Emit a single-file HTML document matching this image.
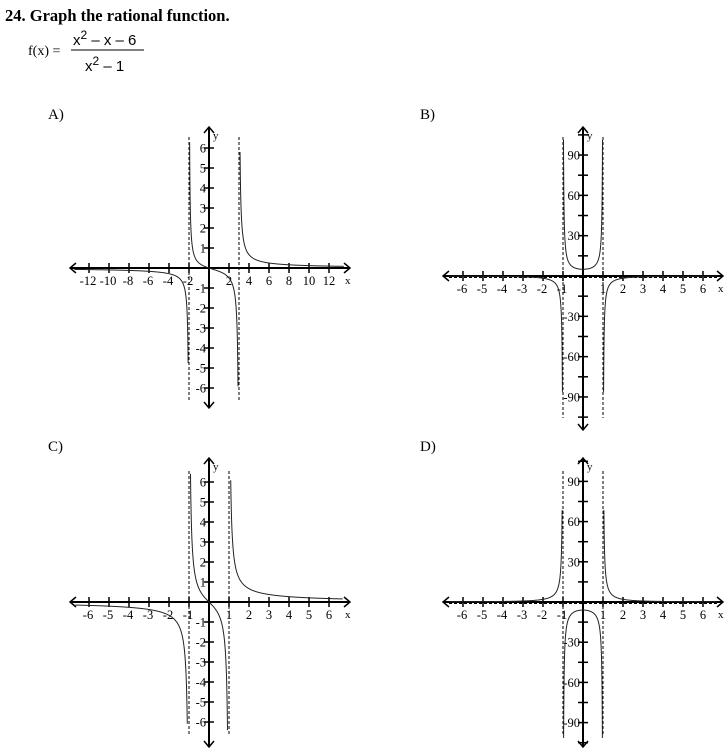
<!DOCTYPE html>
<html><head><meta charset="utf-8">
<style>
body{margin:0;background:#fff;width:728px;height:748px;overflow:hidden;font-family:"Liberation Serif",serif;}
svg text{font-family:"Liberation Serif",serif;}
</style></head>
<body>
<svg id="s" width="728" height="748" viewBox="0 0 728 748" xmlns="http://www.w3.org/2000/svg">
<text x="5" y="21" font-size="16.5" font-weight="bold">24. Graph the rational function.</text>
<g>
<text x="28" y="55" font-size="14">f(x) =</text>
<text x="73" y="45" font-size="15" style="font-family:'Liberation Sans',sans-serif">x<tspan dy="-6" font-size="12">2</tspan><tspan dy="6"> – x – 6</tspan></text>
<line x1="71" y1="50" x2="144" y2="50" stroke="#000" stroke-width="1"/>
<text x="85" y="71" font-size="15" style="font-family:'Liberation Sans',sans-serif">x<tspan dy="-6" font-size="12">2</tspan><tspan dy="6"> – 1</tspan></text>
</g>
<text x="48" y="119" font-size="15">A)</text>
<text x="420" y="119" font-size="15">B)</text>
<text x="48" y="451" font-size="15">C)</text>
<text x="420" y="451" font-size="15">D)</text>
</svg>
<script>
// chart data
const xTicksA = [-12,-10,-8,-6,-4,-2,2,4,6,8,10,12];
const yTicksA = [-6,-5,-4,-3,-2,-1,1,2,3,4,5,6];
const asymA = [-2,3];
const xTicksB = [-6,-5,-4,-3,-2,-1,1,2,3,4,5,6];
const yTicksB = [-105,-90,-75,-60,-45,-30,-15,15,30,45,60,75,90,105];
const yLabelsB = [-90,-60,-30,30,60,90];
const asymB = [-1,1];
const xTicksC = [-6,-5,-4,-3,-2,-1,1,2,3,4,5,6];
const yTicksC = [-6,-5,-4,-3,-2,-1,1,2,3,4,5,6];
const asymC = [-1,1];
const coefB = [5];
const coefD = [-6];

const svg = document.getElementById('s');
const NS = 'http://www.w3.org/2000/svg';
function mk(tag, attrs, parent){const e=document.createElementNS(NS,tag);for(const k in attrs)e.setAttribute(k,attrs[k]);(parent||svg).appendChild(e);return e;}

function graph(cfg){
  const g = mk('g',{});
  
  
  const X = v => cfg.ox + v*cfg.sx;
  const Y = v => cfg.oy - v*cfg.sy;
  cfg.asym.forEach(a=>{
    const l = mk('line',{x1:X(a),x2:X(a),y1:cfg.ay1,y2:cfg.ay2,stroke:'#000','stroke-width':1,'stroke-dasharray':'3,2'},g);
    
    
  });
  if(cfg.hdash){
    const l = mk('line',{x1:cfg.x1+6,x2:cfg.x2-6,y1:cfg.oy+1.5,y2:cfg.oy+1.5,stroke:'#000','stroke-width':1,'stroke-dasharray':'3,2'},g);
    
    
  }
  const xa = mk('line',{x1:cfg.x1,x2:cfg.x2,y1:cfg.oy,y2:cfg.oy,stroke:'#000','stroke-width':2},g);
  
  
  const ya = mk('line',{x1:cfg.ox,x2:cfg.ox,y1:cfg.y1,y2:cfg.y2,stroke:'#000','stroke-width':2},g);
  
  
  const arr = mk('path',{d:`M${cfg.x1+6},${cfg.oy-5}L${cfg.x1},${cfg.oy}L${cfg.x1+6},${cfg.oy+5}M${cfg.x2-6},${cfg.oy-5}L${cfg.x2},${cfg.oy}L${cfg.x2-6},${cfg.oy+5}M${cfg.ox-5},${cfg.y1+6}L${cfg.ox},${cfg.y1}L${cfg.ox+5},${cfg.y1+6}M${cfg.ox-5},${cfg.y2-6}L${cfg.ox},${cfg.y2}L${cfg.ox+5},${cfg.y2-6}`,fill:'none',stroke:'#000','stroke-width':1.5},g);
  
  
  cfg.xt.forEach(v=>{
    const t = mk('line',{x1:X(v),x2:X(v),y1:cfg.oy-5,y2:cfg.oy+5,stroke:'#000','stroke-width':1.5},g);
    
    
    const tx = mk('text',{x:X(v)-(v<0?1:0),y:cfg.oy+17,'font-size':12.5,'text-anchor':'middle'},g);
    tx.textContent = v;
    
    
  });
  cfg.yt.forEach(v=>{
    const t = mk('line',{x1:cfg.ox-5,x2:cfg.ox+5,y1:Y(v),y2:Y(v),stroke:'#000','stroke-width':1.5},g);
    
    
    if(cfg.yl.includes(v)){
      const tx = mk('text',{x:cfg.ox-3,y:Y(v)+4.5,'font-size':12.5,'text-anchor':'end'},g);
      tx.textContent = v;
      
      
    }
  });
  const xl = mk('text',{x:cfg.x2-5,y:cfg.oy+16,'font-size':11},g);
  xl.textContent='x';
  
  
  const yl = mk('text',{x:cfg.ox+4,y:cfg.y1+12,'font-size':11},g);
  yl.textContent='y';
  
  
  const bps=[cfg.xmin,...cfg.asym,cfg.xmax];
  for(let i=0;i<bps.length-1;i++){
    let d='';const a=bps[i],b=bps[i+1];const N=400;
    for(let k=1;k<N;k++){
      const x=a+(b-a)*k/N;const y=cfg.f(x);
      if(Math.abs(y)>cfg.ymax) continue;
      d+=(d?'L':'M')+X(x).toFixed(2)+','+Y(y).toFixed(2);
    }
    const p = mk('path',{d:d,fill:'none',stroke:'#222','stroke-width':1},g);
    
    
  }
}

graph({name:'graph-a',ox:209,oy:268,sx:10,sy:20,x1:70,x2:350,y1:127,y2:408,ay1:137,ay2:400,
  xt:xTicksA,yt:yTicksA,yl:yTicksA,asym:asymA,xmin:-13.5,xmax:13.5,ymax:6.6,f:x=>x/((x+2)*(x-3))});
graph({name:'graph-b',ox:583,oy:276,sx:20,sy:1.344,x1:443,x2:723,y1:127,y2:430,ay1:137,ay2:418,hdash:true,
  xt:xTicksB,yt:yTicksB,yl:yLabelsB,asym:asymB,xmin:-6.7,xmax:6.7,ymax:103,f:x=>coefB[0]/(1-x*x)});
graph({name:'graph-c',ox:209,oy:602,sx:20,sy:20,x1:70,x2:350,y1:458,y2:747,ay1:471,ay2:736,
  xt:xTicksC,yt:yTicksC,yl:yTicksC,asym:asymC,xmin:-6.7,xmax:6.7,ymax:6.6,f:x=>x/(x*x-1)});
graph({name:'graph-d',ox:583,oy:602,sx:20,sy:1.34,x1:443,x2:723,y1:458,y2:747,ay1:471,ay2:736,hdash:true,
  xt:xTicksB,yt:yTicksB,yl:yLabelsB,asym:asymB,xmin:-6.7,xmax:6.7,ymax:103,f:x=>coefD[0]/(1-x*x)});
</script>
</body></html>
